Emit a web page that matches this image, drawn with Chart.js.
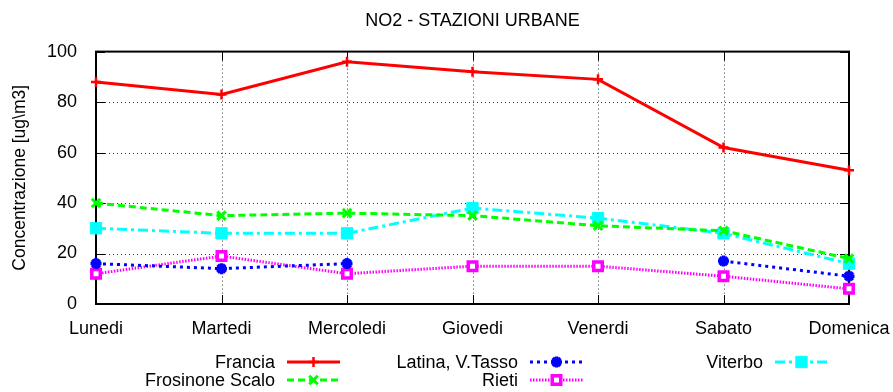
<!DOCTYPE html>
<html>
<head>
<meta charset="utf-8">
<script src="https://cdn.jsdelivr.net/npm/chart.js@4.4.0/dist/chart.umd.min.js"></script>
<style>
    html, body { margin: 0; padding: 0; background: #fff; }
    #wrap { width: 893px; height: 392px; }
</style>
</head>
<body>
<div id="wrap"><canvas id="no2-chart" width="893" height="392"></canvas></div>
<script>
// Giorni della settimana e medie NO2 per stazione (ug/m3)
const GIORNI = ['Lunedi', 'Martedi', 'Mercoledi', 'Giovedi', 'Venerdi', 'Sabato', 'Domenica'];

const FRANCIA   = [88, 83, 96, 92, 89, 62, 53];
const FROSINONE = [40, 35, 36, 35, 31, 29, 18];
const LATINA    = [16, 14, 16, null, null, 17, 11];   // giovedi/venerdi senza dati
const RIETI     = [12, 19, 12, 15, 15, 11, 6];
const VITERBO   = [30, 28, 28, 38, 34, 28, 16];

const Y_MIN = 0, Y_MAX = 100, Y_STEP = 20;

const FONT = '"Liberation Sans", Arial, sans-serif';
Chart.defaults.font.family = FONT;
Chart.defaults.font.size = 18;
Chart.defaults.color = '#000';

const base = { tension: 0, borderWidth: 3, clip: false, spanGaps: false, fill: false };

const datasets = [
    { ...base, label: 'Francia', data: FRANCIA,
      borderColor: '#ff0000', pointStyle: 'cross', pointRadius: 5, pointBorderWidth: 2.5,
      pointBorderColor: '#ff0000', pointBackgroundColor: '#ff0000' },
    { ...base, label: 'Frosinone Scalo', data: FROSINONE,
      borderColor: '#00ff00', borderDash: [7, 4], pointStyle: 'crossRot', pointRadius: 6, pointBorderWidth: 3,
      pointBorderColor: '#00ff00', pointBackgroundColor: '#00ff00' },
    { ...base, label: 'Latina, V.Tasso', data: LATINA,
      borderColor: '#0000ff', borderDash: [3, 4], pointStyle: 'star', pointRadius: 5.5, pointBorderWidth: 3.5,
      pointBorderColor: '#0000ff', pointBackgroundColor: '#0000ff' },
    { ...base, label: 'Rieti', data: RIETI,
      borderColor: '#ff00ff', borderDash: [1.5, 1.5], pointStyle: 'rect', pointRadius: 6, pointBorderWidth: 3.5,
      pointBorderColor: '#ff00ff', pointBackgroundColor: '#ffffff' },
    { ...base, label: 'Viterbo', data: VITERBO,
      borderColor: '#00ffff', borderDash: [10, 4, 3, 4], pointStyle: 'rect', pointRadius: 8, pointBorderWidth: 1,
      pointBorderColor: '#00ffff', pointBackgroundColor: '#00ffff' },
];

// ── Griglia punteggiata, cornice e tacche verso l'interno ─────────────────

const framePlugin = {
    id: 'frame',
    beforeDatasetsDraw(chart) {
        const { ctx, chartArea: a, scales } = chart;
        const tick = 9;
        const yPix = scales.y.ticks.map(t => Math.round(scales.y.getPixelForValue(t.value)) + 0.5);
        const xPix = GIORNI.map((_, i) => Math.round(scales.x.getPixelForTick(i)) + 0.5);
        ctx.save();

        // griglia
        ctx.strokeStyle = '#333';
        ctx.lineWidth = 1;
        ctx.setLineDash([1, 3]);
        ctx.beginPath();
        yPix.slice(1, -1).forEach(y => { ctx.moveTo(a.left + tick, y); ctx.lineTo(a.right - tick, y); });
        xPix.slice(1, -1).forEach(x => { ctx.moveTo(x, a.top + tick); ctx.lineTo(x, a.bottom - tick); });
        ctx.stroke();

        // tacche
        ctx.setLineDash([]);
        ctx.strokeStyle = '#000';
        ctx.beginPath();
        yPix.forEach(y => {
            ctx.moveTo(a.left, y); ctx.lineTo(a.left + tick, y);
            ctx.moveTo(a.right, y); ctx.lineTo(a.right - tick, y);
        });
        xPix.forEach(x => {
            ctx.moveTo(x, a.bottom); ctx.lineTo(x, a.bottom - tick);
            ctx.moveTo(x, a.top); ctx.lineTo(x, a.top + tick);
        });
        ctx.stroke();

        ctx.lineWidth = 2;
        ctx.strokeRect(a.left, a.top, a.right - a.left, a.bottom - a.top);
        ctx.restore();
    },
};

// ── Legenda stile gnuplot: testo allineato a destra, poi campione di linea ─

const keyPlugin = {
    id: 'key',
    afterDraw(chart) {
        const { ctx } = chart;
        const textRight = [275, 518, 763];
        const rowY = [362, 380];
        ctx.save();
        ctx.font = `18px ${FONT}`;
        ctx.textAlign = 'right';
        ctx.textBaseline = 'middle';
        chart.data.datasets.forEach((ds, i) => {
            const col = Math.floor(i / 2), row = i % 2;
            const tx = textRight[col], y = rowY[row];
            ctx.fillStyle = '#000';
            ctx.fillText(ds.label, tx, y + 1);

            const x0 = tx + 12, x1 = tx + 65;
            ctx.strokeStyle = ds.borderColor;
            ctx.lineWidth = ds.borderWidth;
            ctx.setLineDash(ds.borderDash || []);
            ctx.beginPath();
            ctx.moveTo(x0, y); ctx.lineTo(x1, y);
            ctx.stroke();

            ctx.setLineDash([]);
            ctx.strokeStyle = ds.pointBorderColor;
            ctx.fillStyle = ds.pointBackgroundColor;
            ctx.lineWidth = ds.pointBorderWidth;
            Chart.helpers.drawPoint(ctx, {
                pointStyle: ds.pointStyle, radius: ds.pointRadius,
                borderWidth: ds.pointBorderWidth, rotation: 0,
            }, (x0 + x1) / 2, y);
        });
        ctx.restore();
    },
};

new Chart(document.getElementById('no2-chart'), {
    type: 'line',
    data: { labels: GIORNI, datasets },
    options: {
        responsive: false,
        animation: false,
        events: [],
        layout: { padding: { left: 10, right: 44, top: 0, bottom: 48 } },
        plugins: {
            legend: { display: false },
            tooltip: { enabled: false },
            title: {
                display: true,
                text: 'NO2 - STAZIONI URBANE',
                fullSize: false,
                color: '#000',
                font: { size: 18, weight: 'normal' },
                padding: { top: 10, bottom: 20 },
            },
        },
        scales: {
            x: {
                offset: false,
                afterFit: s => { s.height = 40; s.paddingLeft = 0; s.paddingRight = 0; },
                grid: { display: false, offset: false },
                border: { display: false },
                ticks: { padding: 6, maxRotation: 0, autoSkip: false, color: '#000' },
            },
            y: {
                min: Y_MIN, max: Y_MAX,
                afterFit: s => { s.width = 86; },
                grid: { display: false },
                border: { display: false },
                ticks: { stepSize: Y_STEP, padding: 11, color: '#000' },
                title: {
                    display: true,
                    text: 'Concentrazione [ug\\m3]',
                    color: '#000',
                    font: { size: 17.5 },
                    padding: { top: 0, bottom: 0 },
                },
            },
        },
    },
    plugins: [framePlugin, keyPlugin],
});
</script>
</body>
</html>
